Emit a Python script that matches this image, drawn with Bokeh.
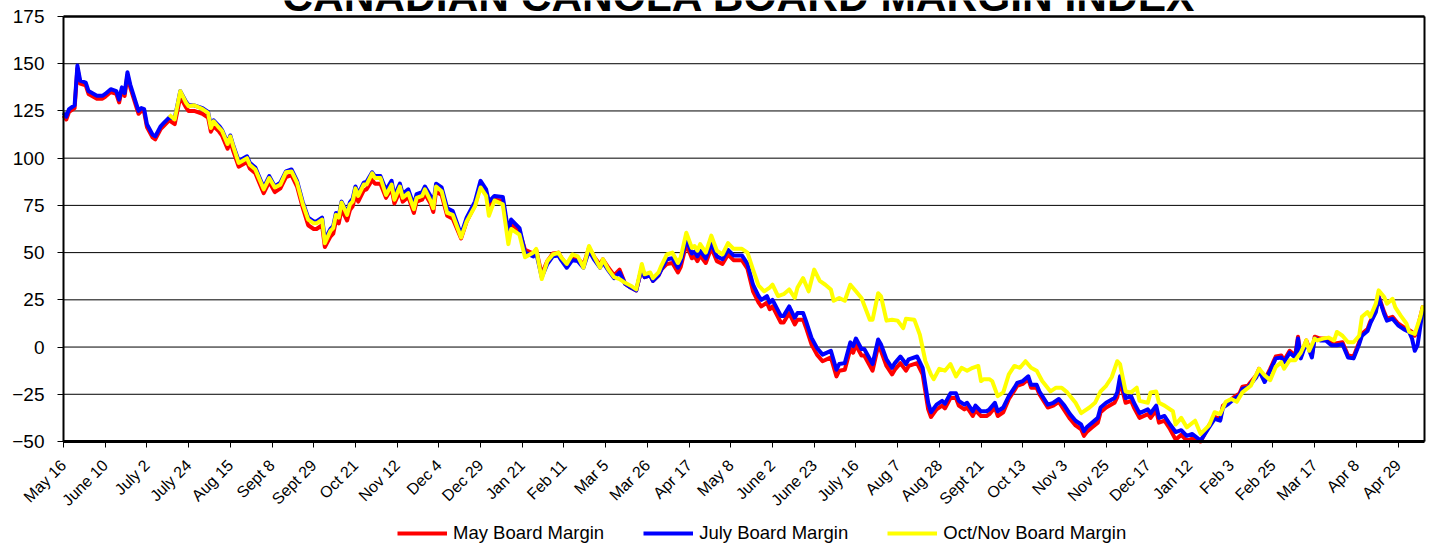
import math
from bokeh.plotting import figure
from bokeh.models import Range1d, FixedTicker, Legend, LegendItem, Label, LinearAxis
from bokeh.embed import file_html
from bokeh.resources import INLINE

# ---------------- data ----------------
tick_labels = ["May 16", "June 10", "July 2", "July 24", "Aug 15", "Sept 8", "Sept 29",
               "Oct 21", "Nov 12", "Dec 4", "Dec 29", "Jan 21", "Feb 11", "Mar 5",
               "Mar 26", "Apr 17", "May 8", "June 2", "June 23", "July 16", "Aug 7",
               "Aug 28", "Sept 21", "Oct 13", "Nov 3", "Nov 25", "Dec 17", "Jan 12",
               "Feb 3", "Feb 25", "Mar 17", "Apr 8", "Apr 29"]
tick_days = [0, 15, 30, 45, 60, 75, 90, 105, 120, 135, 150, 165, 180, 195, 210, 225,
             240, 255, 270, 285, 300, 315, 330, 345, 360, 375, 390, 405, 420, 435, 450,
             465, 480]
y_ticks = [-50, -25, 0, 25, 50, 75, 100, 125, 150, 175]

# trading-day index shared by the May and July board margins
mj_days = [0, 1, 2, 4, 5, 6, 8, 9, 12, 14, 15, 17, 19, 20, 21, 22, 23, 24, 26, 27, 28, 29, 30, 32, 33, 35, 36, 38,
           40, 42, 44, 45, 47, 50, 52, 53, 54, 56, 57, 59, 60, 61, 63, 66, 67, 69, 70, 72, 74, 76, 78, 80, 82, 84, 86,
           88, 90, 91, 93, 94, 96, 97, 98, 99, 100, 102, 103, 104, 105, 106, 108, 109, 111, 112, 114, 116, 118, 119,
           121, 122, 124, 126, 127, 129, 130, 132, 133, 134, 136, 138, 140,
           143, 145, 148, 150, 152, 153, 155, 158, 160, 161, 164,
           166, 169, 170, 172, 174, 176, 178, 179, 181, 183, 185, 187, 189, 191, 193, 194, 196, 198, 200,
           202, 204, 206, 208, 209, 211, 212, 214, 215,
           217, 219, 221, 222, 224, 226, 227, 228, 229, 231, 233, 235, 237, 239, 241, 244, 246,
           248, 250, 251, 253, 254, 255, 258, 259, 261, 263, 264, 266, 267, 269, 271, 273, 276, 278, 279, 281, 283,
           284, 285, 287, 288, 291, 293, 294, 296, 298, 299, 301, 303, 304, 307, 309, 311,
           312, 314, 316, 317, 319, 321, 322, 324, 325, 327, 328, 330, 332, 333, 335, 336, 338,
           340, 342, 343, 345, 347, 348, 350, 351, 354, 356, 358,
           360, 362, 364, 366, 367, 368, 370, 372, 373, 375, 378, 379, 380, 382, 384, 385, 387, 390, 391, 393, 394,
           396, 398, 400, 402, 404, 406, 409,
           412, 414, 416, 417, 419, 421, 423, 424, 426, 427, 429, 430, 432, 434, 436, 438, 439, 441, 443, 444, 445,
           447, 449, 450, 452, 454, 456, 458, 460, 462, 464, 466, 467, 469, 470, 472, 473, 475, 476, 478, 480, 482,
           484, 485, 486, 487, 489]

july_vals = [124, 122, 126, 128, 149, 141, 140, 135.5, 133, 133, 134, 136.5, 135.5, 131, 137.5, 134.5, 145.5, 139,
             129.5, 125, 126.5, 126, 118, 112.5, 111.5, 117, 118.5, 121.5,
             121, 135.5, 130, 128, 128, 126.5, 124.5, 117, 120, 117, 115, 108, 112, 107, 98.5, 101, 97.5, 95, 91.5,
             84.5, 90.5, 85, 87, 93, 94, 88, 77,
             68.5, 66.5, 66.5, 68.5, 57, 62.5, 64, 71, 69.5, 77, 71, 76.5, 78.5, 85, 81, 87, 87.5, 92.5, 90.5, 90.5,
             83, 88, 80, 86.5, 81, 83.5, 75, 81, 82, 85, 80, 75.5, 86.5, 84.5, 73.5, 72,
             59.5, 68.5, 77, 88, 83.5, 77, 80, 79.5, 61, 67.5, 63,
             50, 48, 50, 37, 44, 48, 48.5, 46, 42, 46, 45.5, 42, 51, 46, 42, 45, 40.5, 36.5, 39.5,
             33.5, 31.5, 30, 42, 37, 38, 35, 38, 41,
             46.5, 47, 42, 45, 57, 49.5, 50.5, 48, 51, 47, 55, 48, 46.5, 51.5, 48.5, 48.5, 44,
             33, 27, 25, 27, 23.5, 25, 16.5, 16.5, 21.5, 15.5, 18, 18, 14, 5, -0.5, -4, -2, -12, -9, -8.5, 2.5,
             0.5, 4.5, -1, -1, -9, 4, 1.5, -6.5, -11, -8.5, -5, -9, -6.5, -5, -11, -29.5,
             -34.5, -30.5, -28.5, -30, -24.5, -24.5, -28.5, -30.5, -29.5, -34, -31, -34, -34, -33, -29.5, -34, -32,
             -26, -21.5, -19, -18, -15.5, -20, -20, -23.5, -30.5, -29.5, -27.5,
             -31, -35.5, -39, -41, -44.5, -42.5, -40, -37.5, -32, -29.5, -27, -24, -15.5, -27, -26, -29.5, -35, -33,
             -35, -31, -37.5, -36.5, -41, -45, -44, -47, -46, -49.5,
             -42.5, -38, -39, -32, -30, -27.5, -25.5, -22, -21.5, -19.5, -16, -12.5, -18.5, -12.5, -6, -5.5, -8, -3,
             -5.5, 4.5, -6, 2.5, -5.5, 4.5, 3.5, 3.5, 1, 1, 1.5, -5.5, -6, 1.5, 6, 8.5, 12.5, 18.5, 26.5, 17.5, 14,
             15, 11.5, 9.5, 8, 4.5, -2, 1, 21]

may_vals = [122.5, 120.5, 124.5, 126.5, 147.5, 139.5, 138.5, 134, 131.5, 131.5, 132.5, 135, 134, 129.5, 136, 133,
            144, 137.5, 128, 123.5, 125, 124.5, 116.5, 111, 110, 115.5, 117, 120,
            118, 132.5, 127, 125, 125, 123.5, 121.5, 114, 117, 114, 112, 105, 109, 104, 95.5, 98, 94.5, 92, 88.5,
            81.5, 87.5, 82, 84, 90, 91, 85, 74,
            64.5, 62.5, 62.5, 64.5, 53, 58.5, 60, 67, 65.5, 73, 67, 72.5, 74.5, 81, 77, 83, 83.5, 88.5, 86.5, 86.5,
            79, 84, 76, 82.5, 77, 79.5, 71, 77, 78, 81, 76, 71.5, 82.5, 80.5, 69.5, 68,
            57.5, 66.5, 75, 86, 81.5, 75, 78, 77.5, 59, 65.5, 61,
            51.5, 49.5, 51.5, 38.5, 45.5, 49.5, 50, 47.5, 43.5, 47.5, 47, 43.5, 52.5, 47.5, 43.5, 46.5, 42, 38, 41,
            33.5, 31.5, 30, 42, 37, 38, 35, 38, 41,
            44, 44.5, 39.5, 42.5, 54.5, 47, 48, 45.5, 48.5, 44.5, 52.5, 45.5, 44, 49, 46, 46, 41.5,
            29.5, 23.5, 21.5, 23.5, 20, 21.5, 13, 13, 18, 12, 14.5, 14.5, 10.5, 1.5, -4, -7.5, -5.5, -15.5, -12.5,
            -12, -1, -3, 1, -4.5, -4.5, -12.5, 0.5, -2, -10, -14.5, -12, -8.5, -12.5, -10, -8.5, -14.5, -33,
            -37, -33, -31, -32.5, -27, -27, -31, -33, -32, -36.5, -33.5, -36.5, -36.5, -35.5, -32, -36.5, -34.5,
            -27.5, -23, -20.5, -19.5, -17, -21.5, -21.5, -25, -32, -31, -29,
            -33.5, -38, -41.5, -43.5, -47, -45, -42.5, -40, -34.5, -32, -29.5, -26.5, -18, -29.5, -28.5, -32, -37.5,
            -35.5, -37.5, -33.5, -40, -39, -43.5, -49, -46.5, -49.5, -48.5, -50,
            -41.5, -37, -38, -31, -29, -26.5, -24.5, -21, -20.5, -18.5, -15, -11.5, -17.5, -11.5, -5, -4.5, -7, -2,
            -4.5, 5.5, -5, 3.5, -4.5, 5.5, 4.5, 4.5, 2, 2, 2.5, -4.5, -5, 2.5, 7, 9.5, 13.5, 19.5, 27, 18.5, 15,
            16, 12.5, 10.5, 9, 8, 6, 10, 22]

# Oct/Nov board margin starts later in the season
oct_days = [38, 40, 42, 44, 45, 47, 50, 52, 53, 54, 56, 57, 59, 60, 61, 63, 66, 67, 69, 70, 72, 74, 76, 78, 80, 82,
            84, 86,
            88, 90, 91, 93, 94, 96, 97, 98, 99, 100, 102, 103, 104, 105, 106, 108, 109, 111, 112, 114, 116, 118, 119,
            121, 122, 124, 126, 127, 129, 130, 132, 133, 134, 136, 138, 140,
            143, 145, 148, 150, 152, 153, 155, 158, 160, 161, 164,
            166, 169, 170, 172, 174, 176, 178, 179, 181, 183, 185, 187, 189, 191, 193, 194, 196, 198, 200,
            202, 204, 206, 208, 209, 211, 212, 214, 215,
            217, 219, 221, 222, 224, 226, 227, 228, 229, 231, 233, 235, 237, 239, 241, 244, 246,
            248, 250, 252, 254, 255, 257, 259, 261, 263, 264, 266, 268, 270, 272, 274, 276, 277, 279, 281, 283, 285,
            287, 290, 291, 293, 294, 296, 298, 300, 302, 303, 306, 308, 310,
            312, 313, 315, 317, 319, 321, 323, 325, 327, 329, 330, 331, 333, 334, 336, 338,
            340, 342, 344, 346, 348, 350, 352, 355, 357, 359,
            361, 364, 366, 369, 371, 373, 375, 377, 379, 380, 382, 384, 386, 387, 390, 391, 393, 394, 396, 399, 400,
            402, 404, 407, 409,
            412, 414, 416, 418, 420, 422, 424, 427, 428, 430, 432, 434, 436, 438, 439, 441, 443, 445, 447, 448, 450,
            451, 453, 455, 457, 458, 460, 462, 464, 466, 467, 469, 470, 472, 473, 475, 476, 478, 479, 481, 483, 484,
            486, 488, 489]

oct_vals = [123, 120.5, 135.5, 129.5, 127.5, 128, 126, 124, 116, 119.5, 116, 114.5, 107.5, 111.5, 106.5, 97.5, 100,
            96.5, 94, 90.5, 83.5, 89.5, 84.5, 86, 92.5, 93, 87, 76,
            67.5, 65.5, 65.5, 67.5, 55, 61.5, 63, 70, 68.5, 76.5, 70, 75.5, 77, 84, 80, 86, 86, 92, 89.5, 89.5, 80.5,
            86, 78, 85, 79, 81.5, 73, 79, 80, 83.5, 77.5, 73.5, 85, 82.5, 71, 70,
            58, 66.5, 74.5, 84.5, 80, 69.5, 77.5, 75.5, 54.5, 62.5, 59.5,
            47.5, 50, 52, 36, 45.5, 49, 50, 47.5, 44, 49, 48, 42, 53.5, 47.5, 42, 46.5, 41, 37, 36,
            34, 32.5, 30.5, 44, 38.5, 39.5, 36.5, 39.5, 43,
            49, 50, 44.5, 47.5, 60.5, 52.5, 53.5, 51, 54.5, 50, 59, 51, 49, 55, 52, 52, 50,
            41, 32.5, 29.5, 31.5, 33, 27, 28, 30.5, 26, 31.5, 36.5, 29.5, 41, 35, 33, 30.5, 24.5, 26, 24.5, 33, 29.5,
            26, 14.5, 14.5, 28.5, 27, 14, 14.5, 14, 10, 15, 14.5, 6.5, -7.5,
            -14.5, -17, -11.5, -12.5, -9, -15.5, -11, -12.5, -11, -10, -18, -17, -17, -18, -26, -24,
            -14.5, -10, -11, -7.5, -11, -12.5, -18, -23.5, -21.5, -21.5,
            -24, -29.5, -35, -32, -29.5, -23.5, -20.5, -16, -7.5, -9, -23.5, -24, -21.5, -28.5, -29.5, -24, -23.5,
            -29.5, -31, -34, -41, -37.5, -42.5, -39, -46,
            -41.5, -34.5, -35.5, -29, -27.5, -29, -24, -20.5, -17.5, -11.5, -15, -17.5, -10.5, -8, -11.5, -7, -7, -3,
            3.5, -2, 4.5, 3.5, 4.5, 5, 3.5, 8, 6, 2.5, 2.5, 6, 16, 18.5, 16, 23, 30, 26.5, 23, 25.5, 21, 16.5, 12.5,
            8, 7, 16, 22]

series_names = ["May Board Margin", "July Board Margin", "Oct/Nov Board Margin"]
series_colors = ["#FF0000", "#0000FF", "#FFFF00"]
title_text = "CANADIAN CANOLA BOARD MARGIN INDEX"

# ---------------- figure ----------------
FONT = "Liberation Sans"
X_MIN, X_MAX = 0, 489.5            # trading days shown
Y_MIN, Y_MAX = -50, 175
PX_PER_DAY = 1361 / (X_MAX - X_MIN)
PX_PER_UNIT = 425 / float(Y_MAX - Y_MIN)
LEFT_PAD, RIGHT_PAD = 63, 8        # room for the value labels
TOP_PAD, BOTTOM_PAD = 16, 105      # room for the (cut-off) title, date labels and legend

p = figure(width=1432, height=546, output_backend="svg", toolbar_location=None,
           x_range=Range1d(X_MIN - LEFT_PAD / PX_PER_DAY, X_MAX + RIGHT_PAD / PX_PER_DAY),
           y_range=Range1d(Y_MIN - BOTTOM_PAD / PX_PER_UNIT, Y_MAX + TOP_PAD / PX_PER_UNIT),
           min_border_top=0, min_border_left=0, min_border_right=0, min_border_bottom=0,
           background_fill_color="white", border_fill_color="white")

p.outline_line_color = None
p.xgrid.visible = False
p.ygrid.visible = False

# horizontal gridlines, limited to the plot box
p.segment(x0=[X_MIN] * len(y_ticks), x1=[X_MAX] * len(y_ticks), y0=y_ticks, y1=y_ticks,
          line_color="black", line_width=1)

# left value axis, pinned to the left edge of the plot box
p.yaxis.fixed_location = X_MIN
p.yaxis.bounds = (Y_MIN, Y_MAX)
p.yaxis.ticker = FixedTicker(ticks=y_ticks)
p.yaxis.major_label_text_font = FONT
p.yaxis.major_label_text_font_size = "19px"
p.yaxis.major_label_text_color = "black"
p.yaxis.major_tick_out = 6
p.yaxis.major_tick_in = 0
p.yaxis.minor_tick_out = 0
p.yaxis.minor_tick_in = 0
p.yaxis.axis_line_width = 2
p.yaxis.axis_line_color = "black"
p.yaxis.major_tick_line_color = "black"
p.yaxis.major_label_standoff = 13

# bottom date axis, pinned to the bottom of the plot box
p.xaxis.fixed_location = Y_MIN
p.xaxis.bounds = (X_MIN, X_MAX)
p.xaxis.ticker = FixedTicker(ticks=tick_days)
p.xaxis.major_label_overrides = {d: lbl for d, lbl in zip(tick_days, tick_labels)}
p.xaxis.major_label_orientation = math.pi / 4
p.xaxis.major_label_text_font = FONT
p.xaxis.major_label_text_font_size = "16px"
p.xaxis.major_label_text_color = "black"
p.xaxis.major_tick_out = 6
p.xaxis.major_tick_in = 0
p.xaxis.minor_tick_out = 0
p.xaxis.minor_tick_in = 0
p.xaxis.axis_line_width = 3
p.xaxis.axis_line_color = "black"
p.xaxis.major_tick_line_color = "black"
p.xaxis.major_label_standoff = 15

# right and top borders of the plot box
right_axis = LinearAxis(fixed_location=X_MAX, ticker=FixedTicker(ticks=[]), bounds=(Y_MIN, Y_MAX),
                        axis_line_width=2, axis_line_color="black",
                        major_tick_out=0, major_tick_in=0, minor_tick_out=0, minor_tick_in=0)
p.add_layout(right_axis, "right")
top_axis = LinearAxis(fixed_location=Y_MAX, ticker=FixedTicker(ticks=[]), bounds=(X_MIN, X_MAX),
                      axis_line_width=2.5, axis_line_color="black",
                      major_tick_out=0, major_tick_in=0, minor_tick_out=0, minor_tick_in=0)
p.add_layout(top_axis, "above")

r_may = p.line(mj_days, may_vals, line_color=series_colors[0], line_width=4, line_join="round")
r_jul = p.line(mj_days, july_vals, line_color=series_colors[1], line_width=4, line_join="round")
r_oct = p.line(oct_days, oct_vals, line_color=series_colors[2], line_width=4, line_join="round")

legend = Legend(items=[LegendItem(label=series_names[0], renderers=[r_may]),
                       LegendItem(label=series_names[1], renderers=[r_jul]),
                       LegendItem(label=series_names[2], renderers=[r_oct])],
                location=(397, 2), orientation="horizontal",
                glyph_width=50, glyph_height=18, label_standoff=6, spacing=39,
                padding=0, margin=0, border_line_alpha=0, background_fill_alpha=0,
                label_text_font=FONT, label_text_font_size="18.5px", label_text_color="black")
p.add_layout(legend)

title = Label(x=243, y=Y_MAX, y_offset=20, text=title_text, text_align="center", text_baseline="alphabetic",
              text_font=FONT, text_font_style="bold", text_font_size="42.5px", text_color="black")
p.add_layout(title)

open("out.html", "w").write(file_html(p, INLINE))
